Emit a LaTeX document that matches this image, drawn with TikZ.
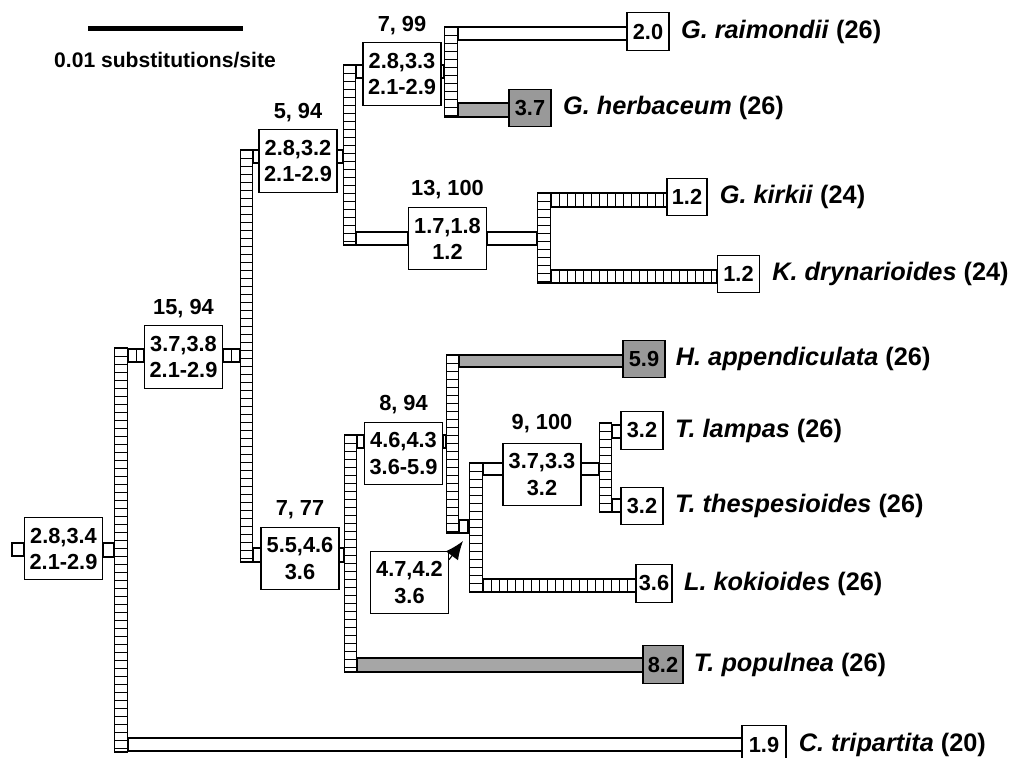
\documentclass[tikz,border=0pt]{standalone}
\usepackage{fontspec}
\setmainfont{Liberation Sans}
\usetikzlibrary{arrows.meta, positioning}

\begin{document}
\begin{tikzpicture}[
    x=0.025cm, y=-0.025cm,
    every node/.style={font=\bfseries},
    inbox/.style={rectangle, draw, fill=white, line width=0.8pt, minimum width=1.95cm,
                  minimum height=1.57cm, inner sep=0pt, align=center,
                  font=\fontsize{15.5}{18.5}\selectfont\bfseries},
    tipbox/.style={rectangle, draw, fill=white, line width=0.8pt, minimum width=1.05cm,
                   minimum height=0.93cm, inner sep=0pt,
                   font=\fontsize{15.5}{17}\selectfont\bfseries},
    gtip/.style={tipbox, fill=black!40},
    taxon/.style={inner sep=0pt, font=\fontsize{18}{21}\selectfont\bfseries},
    supp/.style={inner sep=0pt, font=\fontsize{15.5}{17}\selectfont\bfseries},
    rung/.style={line width=0.6pt},
    obr/.style={draw, fill=white, line width=0.8pt},
    gbr/.style={draw, fill=black!35, line width=0.8pt},
    hlad/.style={obr, path picture={\foreach \k in {1,...,40}
        \draw[rung] ([xshift=\k*0.2cm]path picture bounding box.south west)
                 -- ([xshift=\k*0.2cm]path picture bounding box.north west);}},
    vlad/.style={rectangle, draw, fill=white, line width=0.8pt, inner sep=0pt,
        minimum width=0.32cm, minimum height=#1*0.025cm,
        path picture={\foreach \k in {1,...,55}
        \draw[rung] ([yshift=-\k*0.2cm]path picture bounding box.north west)
                 -- ([yshift=-\k*0.2cm]path picture bounding box.north east);}},
    arr/.style={-{Latex[length=4.6mm,width=3.8mm]}, line width=0.8pt}
]
    \useasboundingbox (0,0) rectangle (1016,757);

    % scale bar
    \coordinate (sb0) at (88,28.5);
    \coordinate (sb1) at (243,28.5);
    \draw[line width=3.2pt] (sb0) -- (sb1);
    \node[supp, font=\fontsize{15}{17}\selectfont\bfseries] (sblab) at (165,60) {0.01 substitutions/site};

    % ladders
    \node[vlad=404] (v0) at (121,550) {};
    \node[vlad=412] (v1) at (246.5,356) {};
    \node[vlad=180] (v2) at (349.5,155) {};
    \node[vlad=90]  (v3) at (451,72) {};
    \node[vlad=90]  (v4) at (544,238) {};
    \node[vlad=237] (v5) at (350.5,553.5) {};
    \node[vlad=178] (v6) at (452.5,444) {};
    \node[vlad=129] (v7) at (476,527.5) {};
    \node[vlad=89]  (v8) at (605.5,467.5) {};

    % internal nodes
    \node[inbox] (root)   at (63.5,548.5) {2.8,3.4\\2.1-2.9};
    \node[inbox] (n1594)  at (183.5,357)  {3.7,3.8\\2.1-2.9};
    \node[inbox] (n594)   at (298,161)    {2.8,3.2\\2.1-2.9};
    \node[inbox] (n799)   at (402,74)     {2.8,3.3\\2.1-2.9};
    \node[inbox] (n13100) at (447.5,238.5){1.7,1.8\\1.2};
    \node[inbox] (n777)   at (300,558.5)  {5.5,4.6\\3.6};
    \node[inbox] (n894)   at (403.5,453.5){4.6,4.3\\3.6-5.9};
    \node[inbox] (nunres) at (409.5,582.5){4.7,4.2\\3.6};
    \node[inbox] (n9100)  at (542,474.5)  {3.7,3.3\\3.2};

    \node[supp, above=5pt of n1594]  (l1594)  {15, 94};
    \node[supp, above=5pt of n594]   (l594)   {5, 94};
    \node[supp, above=5pt of n799]   (l799)   {7, 99};
    \node[supp, above=5pt of n13100] (l13100) {13, 100};
    \node[supp, above=5pt of n777]   (l777)   {7, 77};
    \node[supp, above=5pt of n894]   (l894)   {8, 94};
    \node[supp, above=7pt of n9100]  (l9100)  {9, 100};

    % tips
    \node[tipbox] (rai) at (648,31.5)  {2.0};
    \node[gtip]   (her) at (530,108)   {3.7};
    \node[tipbox, minimum width=1cm] (kir) at (687,197) {1.2};
    \node[tipbox] (dry) at (738.5,274) {1.2};
    \node[gtip]   (app) at (644,359)   {5.9};
    \node[tipbox] (lam) at (642,430.5) {3.2};
    \node[tipbox] (the) at (642,506)   {3.2};
    \node[tipbox, minimum width=0.9cm] (kok) at (654,583.5) {3.6};
    \node[gtip, minimum width=1cm] (pop) at (663,664.5) {8.2};
    \node[tipbox, minimum width=1.1cm] (tri) at (764,744.5) {1.9};

    \node[taxon, right=0.28cm of rai] (lrai) {\textit{G. raimondii} (26)};
    \node[taxon, right=0.28cm of her] (lher) {\textit{G. herbaceum} (26)};
    \node[taxon, right=0.3cm of kir]  (lkir) {\textit{G. kirkii} (24)};
    \node[taxon, right=0.3cm of dry]  (ldry) {\textit{K. drynarioides} (24)};
    \node[taxon, right=0.25cm of app] (lapp) {\textit{H. appendiculata} (26)};
    \node[taxon, right=0.28cm of lam] (llam) {\textit{T. lampas} (26)};
    \node[taxon, right=0.28cm of the] (lthe) {\textit{T. thespesioides} (26)};
    \node[taxon, right=0.28cm of kok] (lkok) {\textit{L. kokioides} (26)};
    \node[taxon, right=0.25cm of pop] (lpop) {\textit{T. populnea} (26)};
    \node[taxon, right=0.3cm of tri]  (ltri) {\textit{C. tripartita} (20)};

    % branches
    \coordinate (stem) at (12,543);
    \draw[obr]  (stem) rectangle (root.west |- 0,556);
    \draw[obr]  (root.east |- 0,543)   rectangle (v0.west |- 0,557);
    \draw[hlad] (v0.east |- 0,349)     rectangle (n1594.west |- 0,362);
    \draw[hlad] (n1594.east |- 0,349)  rectangle (v1.west |- 0,362);
    \draw[obr]  (v1.east |- 0,150)     rectangle (n594.west |- 0,163);
    \draw[obr]  (n594.east |- 0,150)   rectangle (v2.west |- 0,163);
    \draw[obr]  (v2.east |- 0,65)      rectangle (n799.west |- 0,78);
    \draw[obr]  (n799.east |- 0,65)    rectangle (v3.west |- 0,78);
    \draw[obr]  (v3.east |- 0,27)      rectangle (rai.west |- 0,40);
    \draw[gbr]  (v3.east |- 0,103)     rectangle (her.west |- 0,117);
    \draw[obr]  (v2.east |- 0,232)     rectangle (n13100.west |- 0,245);
    \draw[obr]  (n13100.east |- 0,232) rectangle (v4.west |- 0,245);
    \draw[hlad] (v4.east |- 0,193)     rectangle (kir.west |- 0,207);
    \draw[hlad] (v4.east |- 0,270)     rectangle (dry.west |- 0,283);
    \draw[obr]  (v1.east |- 0,548)     rectangle (n777.west |- 0,562);
    \draw[obr]  (n777.east |- 0,548)   rectangle (v5.west |- 0,562);
    \draw[gbr]  (v5.east |- 0,658)     rectangle (pop.west |- 0,672);
    \draw[obr]  (v5.east |- 0,435)     rectangle (n894.west |- 0,448);
    \draw[obr]  (n894.east |- 0,435)   rectangle (v6.west |- 0,448);
    \draw[gbr]  (v6.east |- 0,355)     rectangle (app.west |- 0,367);
    \draw[hlad] (v6.east |- 0,520)     rectangle (v7.west |- 0,533);
    \draw[obr]  (v7.east |- 0,463)     rectangle (n9100.west |- 0,475);
    \draw[obr]  (n9100.east |- 0,463)  rectangle (v8.west |- 0,475);
    \draw[hlad] (v8.east |- 0,425)     rectangle (lam.west |- 0,438);
    \draw[hlad] (v8.east |- 0,499)     rectangle (the.west |- 0,512);
    \draw[hlad] (v7.east |- 0,579)     rectangle (kok.west |- 0,592);
    \draw[obr]  (v0.east |- 0,738)     rectangle (tri.west |- 0,751);

    \coordinate (junc) at (463,541);
    \draw[arr] (nunres.30) -- (junc);
\end{tikzpicture}
\end{document}
